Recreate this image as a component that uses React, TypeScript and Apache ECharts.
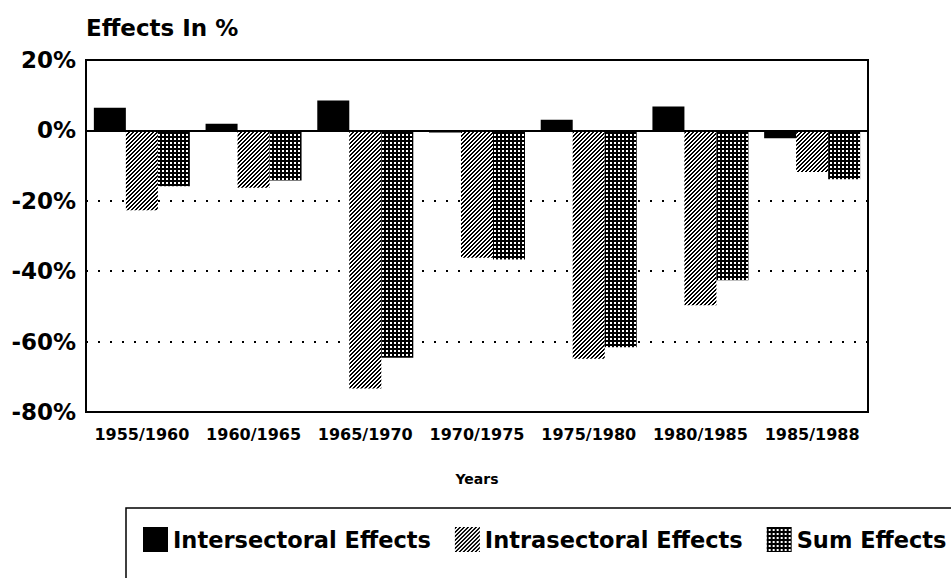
import React, { useEffect, useRef } from "react";
import * as echarts from "echarts";

const categories = ["1955/1960", "1960/1965", "1965/1970", "1970/1975", "1975/1980", "1980/1985", "1985/1988"];
const intersectoral = [6.4, 1.9, 8.5, -0.6, 3.0, 6.8, -2.2];
const intrasectoral = [-22.7, -16.3, -73.3, -36.2, -64.9, -49.7, -11.8];
const sumEffects = [-15.9, -14.2, -64.6, -36.7, -61.6, -42.6, -13.9];
const seriesNames = ["Intersectoral Effects", "Intrasectoral Effects", "Sum Effects"];
const yMin = -80;
const yMax = 20;
const yStep = 20;

const FONT = "DejaVu Sans";

function makeTile(size: number, isBlack: (x: number, y: number) => boolean) {
  const c = document.createElement("canvas");
  c.width = size;
  c.height = size;
  const ctx = c.getContext("2d")!;
  const img = ctx.createImageData(size, size);
  for (let y = 0; y < size; y++) {
    for (let x = 0; x < size; x++) {
      const i = (y * size + x) * 4;
      const v = isBlack(x, y) ? 0 : 255;
      img.data[i] = v;
      img.data[i + 1] = v;
      img.data[i + 2] = v;
      img.data[i + 3] = 255;
    }
  }
  ctx.putImageData(img, 0, 0);
  return c;
}

export default function App() {
  const ref = useRef<HTMLDivElement>(null);
  useEffect(() => {
    if (!ref.current) return;
    const chart = echarts.init(ref.current, null, { renderer: "svg" });
    const hatch = makeTile(4, (x, y) => (x + y) % 4 < 2);
    const grid = makeTile(4, (x, y) => x % 4 < 2 || y % 4 < 2);
    const textBase = { fontFamily: FONT, fontWeight: "bold" as const, color: "#000" };
    chart.setOption({
      animation: false,
      backgroundColor: "#fff",
      title: {
        text: "Effects In %",
        left: 86,
        top: 16,
        padding: 0,
        textStyle: { ...textBase, fontSize: 23 },
      },
      grid: {
        left: 86,
        right: 83,
        top: 60,
        bottom: 166,
        show: true,
        borderColor: "#000",
        borderWidth: 2,
        backgroundColor: "transparent",
      },
      legend: {
        left: 143,
        top: 527,
        padding: 0,
        itemWidth: 25,
        itemHeight: 25,
        itemGap: 24,
        icon: "rect",
        data: seriesNames,
        textStyle: { ...textBase, fontSize: 22.5 },
      },
      graphic: [
        {
          type: "rect",
          shape: { x: 126, y: 508, width: 900, height: 120 },
          style: { fill: "none", stroke: "#000", lineWidth: 1.5 },
          silent: true,
        },
      ],
      xAxis: {
        type: "category",
        data: categories,
        axisLine: { show: true, onZero: false, lineStyle: { color: "#000", width: 2 } },
        axisTick: { show: false },
        axisLabel: { ...textBase, fontSize: 16, margin: 14, interval: 0 },
        name: "Years",
        nameLocation: "middle",
        nameGap: 60,
        nameTextStyle: { ...textBase, fontSize: 14 },
        splitLine: { show: false },
      },
      yAxis: {
        type: "value",
        min: yMin,
        max: yMax,
        interval: yStep,
        axisLine: { show: true, lineStyle: { color: "#000", width: 2 } },
        axisTick: { show: false },
        axisLabel: { ...textBase, fontSize: 23, margin: 10, formatter: "{value}%" },
        splitLine: { show: true, lineStyle: { color: "#000", width: 2, type: [2, 10] } },
      },
      series: [
        {
          name: seriesNames[0],
          type: "bar",
          data: intersectoral,
          barWidth: 32,
          barGap: "0%",
          itemStyle: { color: "#000" },
          markLine: {
            silent: true,
            symbol: "none",
            label: { show: false },
            lineStyle: { color: "#000", type: "solid", width: 2 },
            data: [{ yAxis: 0 }],
          },
        },
        {
          name: seriesNames[1],
          type: "bar",
          data: intrasectoral,
          barWidth: 32,
          barGap: "0%",
          itemStyle: { color: { image: hatch, repeat: "repeat" } },
        },
        {
          name: seriesNames[2],
          type: "bar",
          data: sumEffects,
          barWidth: 32,
          barGap: "0%",
          itemStyle: { color: { image: grid, repeat: "repeat" } },
        },
      ],
    });
    return () => chart.dispose();
  }, []);
  return <div ref={ref} style={{ position: "fixed", left: 0, top: 0, width: 951, height: 578 }} />;
}
